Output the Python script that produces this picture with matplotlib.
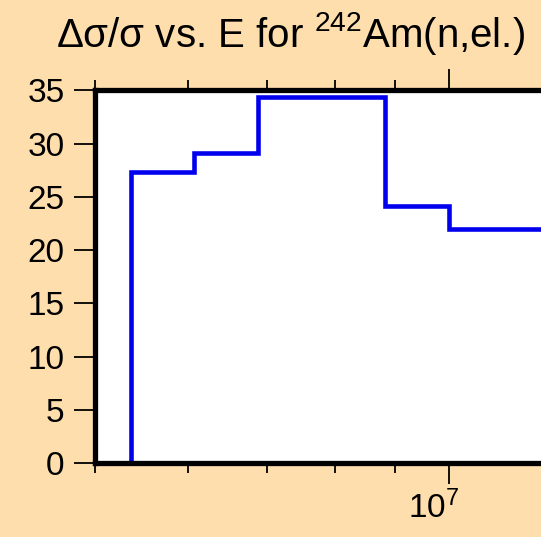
import numpy as np
import matplotlib
matplotlib.use("Agg")
import matplotlib.pyplot as plt
from matplotlib.ticker import FixedLocator, NullFormatter
from matplotlib.transforms import ScaledTranslation

plt.rcParams['font.family'] = ['Liberation Sans', 'DejaVu Sans']
plt.rcParams['mathtext.fontset'] = 'custom'
plt.rcParams['mathtext.rm'] = 'Liberation Sans'
plt.rcParams['mathtext.default'] = 'regular'

# energy bin edges (eV) and relative uncertainty (%) per bin
edges = [5.36e6, 6.07e6, 6.88e6, 8.82e6, 1.0e7, 1.6e7]
rel_err = [27.3, 29.1, 34.4, 24.1, 22.0]
yticks = [0, 5, 10, 15, 20, 25, 30, 35]
minor_x = [5e6, 6e6, 7e6, 8e6, 9e6, 2e7]

bg = '#ffdead'
fig = plt.figure(figsize=[5.41, 5.37], dpi=100, facecolor=bg)

# axes runs past the right border of the picture, as in the original
ax = fig.add_axes([95/541, 1 - 463.3/537, 708/541, 373/537])
ax.set_facecolor('white')
ax.set_xscale('log')
ax.set_xlim(5e6, 2e7)
ax.set_ylim(0, 35)

ax.stairs(rel_err, edges, baseline=0, color='#0000ee', lw=3.3)

for s in ['left', 'top', 'bottom', 'right']:
    ax.spines[s].set_linewidth(3.8)

ax.set_yticks(yticks)
ax.xaxis.set_major_locator(FixedLocator([1e7]))
ax.set_xticklabels([r'$10^7$'])
ax.xaxis.set_minor_locator(FixedLocator(minor_x))
ax.xaxis.set_minor_formatter(NullFormatter())

ax.tick_params(axis='y', which='major', direction='out', length=15, width=1.3,
               labelsize=24, pad=7, left=True, right=False)
ax.tick_params(axis='x', which='major', direction='out', length=15, width=1.3,
               labelsize=24, pad=5, top=True, bottom=True)
ax.tick_params(axis='x', which='minor', direction='out', length=7, width=1.3,
               top=True, bottom=True)

for lbl in ax.get_xticklabels():
    lbl.set_transform(lbl.get_transform() + ScaledTranslation(-0.15, 0, fig.dpi_scale_trans))

fig.text(290.5/541, 1 - 47/537, r'$\Delta\sigma/\sigma$ vs. E for $^{242}$Am(n,el.)',
         ha='center', va='baseline', fontsize=29)

fig.savefig('out.png', dpi=100, facecolor=bg)
